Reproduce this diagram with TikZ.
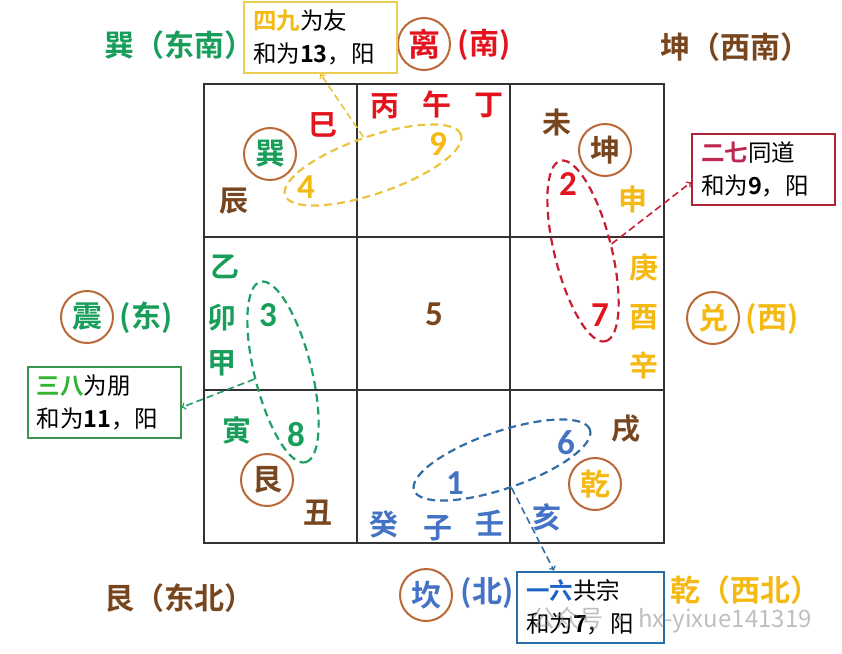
\documentclass[tikz,border=0pt]{standalone}
\usepackage{fontspec}
\setmainfont{Noto Sans CJK SC}[BoldFont={Noto Sans CJK SC Bold}]
\newfontfamily\numfont{Carlito}
\usepackage{tikz}
\usetikzlibrary{shapes.geometric}
\definecolor{grn}{RGB}{24,158,90}
\definecolor{grnb}{RGB}{50,180,50}
\definecolor{grnf}{RGB}{60,150,80}
\definecolor{grnd}{RGB}{30,160,100}
\definecolor{hong}{RGB}{228,20,30}
\definecolor{crim}{RGB}{190,40,80}
\definecolor{redf}{RGB}{175,35,55}
\definecolor{redd}{RGB}{200,30,50}
\definecolor{brn}{RGB}{120,70,30}
\definecolor{ring}{RGB}{185,105,55}
\definecolor{ylw}{RGB}{245,185,20}
\definecolor{ylwd}{RGB}{235,195,60}
\definecolor{ylwf}{RGB}{235,205,80}
\definecolor{blu}{RGB}{68,114,196}
\definecolor{blub}{RGB}{30,100,200}
\definecolor{bluf}{RGB}{40,110,170}
\definecolor{blud}{RGB}{50,110,165}
\tikzset{
  gz/.style={font=\bfseries\fontsize{29}{29}\selectfont, text=#1, inner sep=0pt},
  shu/.style={font=\numfont\bfseries\fontsize{35}{35}\selectfont, text=#1, inner sep=0pt},
  gua/.style={circle, draw=ring, line width=2pt, minimum size=52pt, inner sep=0pt,
    font=\bfseries\fontsize{30}{30}\selectfont, text=#1},
  fang/.style={font=\bfseries\fontsize{30}{30}\selectfont, text=#1, inner sep=0pt},
  pair/.style={ellipse, draw=#1, dash pattern=on 8pt off 5pt, line width=2.2pt,
    minimum width=186pt, minimum height=57pt, inner sep=0pt},
  note/.style 2 args={draw=#1, line width=2pt, text width=#2, align=left, fill=white,
    inner xsep=9pt, inner ysep=7.5pt, minimum height=71pt,
    font=\fontsize{23.5}{33}\selectfont},
  link/.style={->, draw=#1, dash pattern=on 7pt off 4pt, line width=1.6pt}
}
\begin{document}
\begin{tikzpicture}[x=1pt, y=-1pt]
  \useasboundingbox (0,0) rectangle (842,653);

  % grid
  \draw[line width=1.5pt, black!80] (204,84) rectangle (664,543);
  \foreach \x in {357,510} \draw[line width=1.5pt, black!80] (\x,84) -- (\x,543);
  \foreach \y in {237,390} \draw[line width=1.5pt, black!80] (204,\y) -- (664,\y);

  % directions
  \node[fang=grn, anchor=west] (dSE) at (104,45) {巽（东南）};
  \node[gua=hong, font=\bfseries\fontsize{32}{32}\selectfont] (gLi) at (424,44) {离};
  \node[fang=hong] (dS) at (484,45) {(南)};
  \node[fang=brn, anchor=west] (dSW) at (660,47) {坤（西南）};
  \node[gua=grn] (gZhen) at (87,317) {震};
  \node[fang=grn] (dE) at (146,318) {(东)};
  \node[gua=ylw] (gDui) at (713,318) {兑};
  \node[fang=ylw] (dW) at (772,319) {(西)};
  \node[fang=brn, anchor=west] (dNE) at (104,598) {艮（东北）};
  \node[gua=blu] (gKan) at (426,595) {坎};
  \node[fang=blu] (dN) at (487,593) {(北)};
  \node[fang=ylw, anchor=west] (dNW) at (670,590) {乾（西北）};

  % top row
  \node[gz=hong] (si) at (323,125) {巳};
  \node[gua=grn] (gXun) at (270,154) {巽};
  \node[gz=brn] (chen) at (234,201) {辰};
  \node[gz=hong] (bing) at (385,106) {丙};
  \node[gz=hong] (wu) at (437,104) {午};
  \node[gz=hong] (ding) at (489,105) {丁};
  \node[gz=brn] (wei) at (557,122) {未};
  \node[gua=brn] (gKun) at (605,150) {坤};
  \node[gz=ylw] (shen) at (633,199) {申};

  % middle row
  \node[gz=grn] (yi) at (225,267) {乙};
  \node[gz=grn] (mao) at (222,318) {卯};
  \node[gz=grn] (jia) at (222,363) {甲};
  \node[gz=ylw] (geng) at (644,267) {庚};
  \node[gz=ylw] (you) at (644,317) {酉};
  \node[gz=ylw] (xin) at (644,365) {辛};

  % bottom row
  \node[gz=grn] (yin) at (237,430) {寅};
  \node[gua=brn] (gGen) at (267,480) {艮};
  \node[gz=brn] (chou) at (318,513) {丑};
  \node[gz=blu] (gui) at (384,524) {癸};
  \node[gz=blu] (zi) at (438,528) {子};
  \node[gz=blu] (ren) at (490,523) {壬};
  \node[gz=brn] (xu) at (626,429) {戌};
  \node[gua=ylw] (gQian) at (595,484) {乾};
  \node[gz=blu] (hai) at (547,517) {亥};

  % numbers
  \node[shu=ylw] (n4) at (306,187) {4};
  \node[shu=ylw] (n9) at (438,144) {9};
  \node[shu=hong] (n2) at (568,184) {2};
  \node[shu=grn] (n3) at (268,315) {3};
  \node[shu=brn] (n5) at (434,314) {5};
  \node[shu=hong] (n7) at (600,315) {7};
  \node[shu=grn] (n8) at (296,435) {8};
  \node[shu=blu] (n1) at (455,483) {1};
  \node[shu=blu] (n6) at (566,443) {6};

  % pairs
  \node[pair=ylwd, rotate=19] (e49) at (373,165) {};
  \node[pair=redd, rotate=-76] (e27) at (583,251) {};
  \node[pair=grnd, rotate=-76] (e38) at (283,372) {};
  \node[pair=blud, rotate=19] (e16) at (502,460) {};

  % notes
  \node[note={ylwf}{135pt}] (b49) at (320.5,37.5)
    {\textbf{\textcolor{ylw}{四九}}为友\\和为\textbf{13}，阳};
  \node[note={redf}{125pt}] (b27) at (763.5,169.5)
    {\textbf{\textcolor{crim}{二七}}同道\\和为\textbf{9}，阳};
  \node[note={grnf}{135pt}] (b38) at (104,402)
    {\textbf{\textcolor{grnb}{三八}}为朋\\和为\textbf{11}，阳};
  \node[note={bluf}{129pt}] (b16) at (590.5,607)
    {\textbf{\textcolor{blub}{一六}}共宗\\和为\textbf{7}，阳};

  \draw[link=ylwd] (e49.north) -- (b49.south);
  \draw[link=redd] (e27.north) -- (b27.190);
  \draw[link=grnd] (e38.south) -- (b38.-4);
  \draw[link=blud] (e16.south) -- (b16.135);

  % watermark
  \node[anchor=west, text=gray, text opacity=0.5, font=\fontsize{24}{24}\selectfont]
    (wm) at (528,620) {公众号 · hx-yixue141319};
\end{tikzpicture}
\end{document}
